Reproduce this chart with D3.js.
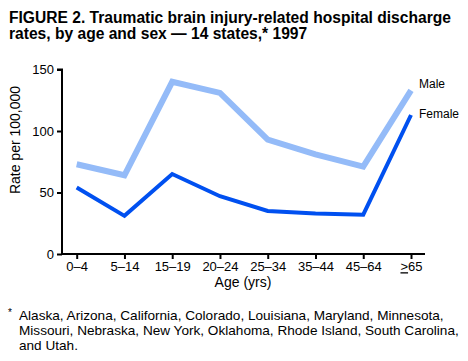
<!DOCTYPE html>
<html>
<head>
<meta charset="utf-8">
<script src="https://cdn.jsdelivr.net/npm/d3@7"></script>
<style>
  body { margin: 0; background: #fff; }
  svg text { font-family: "Liberation Sans", Arial, sans-serif; fill: #000; }
</style>
</head>
<body>
<svg id="chart" width="468" height="361"></svg>
<script>
// Data
const ageGroups = ["0\u20134", "5\u201314", "15\u201319", "20\u201324", "25\u201334", "35\u201344", "45\u201364", "65"];
const maleRates = [73, 64, 140, 131, 93, 81, 71, 133];
const femaleRates = [54, 31, 65, 47, 35, 33, 32, 113];
const yTicks = [0, 50, 100, 150];

const svg = d3.select("#chart");

// Title
const title = svg.append("text")
    .style("font-size", "15.6px")
    .style("font-weight", "bold");
title.append("tspan").attr("x", 9).attr("y", 23)
    .text("FIGURE 2. Traumatic brain injury-related hospital discharge");
title.append("tspan").attr("x", 9).attr("y", 39)
    .text("rates, by age and sex \u2014 14 states,* 1997");

// Scales
const xscale = d3.scalePoint()
    .domain(ageGroups)
    .range([76.7, 411]);

const yscale = d3.scaleLinear()
    .domain([0, 150])
    .range([254, 69.5]);

// Axes
const y_axis = d3.axisLeft(yscale)
    .tickValues(yTicks)
    .tickSize(5)
    .tickPadding(3);

const gy = svg.append("g")
    .attr("transform", "translate(62,0)")
    .call(y_axis);
gy.select(".domain").attr("stroke", "#000").attr("stroke-width", 2)
    .attr("d", "M-5," + yscale(150) + "H0V" + yscale(0));
gy.selectAll(".tick line").attr("stroke-width", 2);
gy.selectAll(".tick text").style("font-size", "13px")
    .style("font-family", "Liberation Sans, Arial, sans-serif");

const x_axis = d3.axisBottom(xscale)
    .tickSize(5)
    .tickPadding(3);

const gx = svg.append("g")
    .attr("transform", "translate(0,254)")
    .call(x_axis);
gx.select(".domain").attr("stroke", "#000").attr("stroke-width", 2)
    .attr("d", "M61,0H425");
gx.selectAll(".tick line").attr("stroke-width", 2);
gx.selectAll(".tick text").style("font-size", "13px")
    .style("font-family", "Liberation Sans, Arial, sans-serif");

// ">=" for the last group: underline a ">"
gx.selectAll(".tick text")
    .filter(d => d === "65")
    .text(null)
    .call(t => {
        t.append("tspan").style("text-decoration", "underline").text(">");
        t.append("tspan").text("65");
    });

// Axis titles
svg.append("text")
    .attr("transform", "translate(20,140) rotate(-90)")
    .attr("text-anchor", "middle")
    .style("font-size", "14px")
    .text("Rate per 100,000");

svg.append("text")
    .attr("x", 243)
    .attr("y", 287)
    .attr("text-anchor", "middle")
    .style("font-size", "14px")
    .text("Age (yrs)");

// Lines
const line = d3.line()
    .x((d, i) => xscale(ageGroups[i]))
    .y(d => yscale(d));

svg.append("path")
    .datum(maleRates)
    .attr("fill", "none")
    .attr("stroke", "#94bbf8")
    .attr("stroke-width", 6)
    .attr("d", line);

svg.append("path")
    .datum(femaleRates)
    .attr("fill", "none")
    .attr("stroke", "#0050f0")
    .attr("stroke-width", 4)
    .attr("d", line);

// Series labels
svg.append("text").attr("x", 419).attr("y", 88)
    .style("font-size", "12px").text("Male");
svg.append("text").attr("x", 419).attr("y", 118)
    .style("font-size", "12px").text("Female");

// Footnote
const foot = svg.append("text").style("font-size", "13.6px");
foot.append("tspan").attr("x", 8).attr("y", 316).style("font-size", "10px").text("*");
foot.append("tspan").attr("x", 19).attr("y", 320)
    .text("Alaska, Arizona, California, Colorado, Louisiana, Maryland, Minnesota,");
foot.append("tspan").attr("x", 19).attr("y", 335)
    .text("Missouri, Nebraska, New York, Oklahoma, Rhode Island, South Carolina,");
foot.append("tspan").attr("x", 19).attr("y", 350)
    .text("and Utah.");
</script>
</body>
</html>
